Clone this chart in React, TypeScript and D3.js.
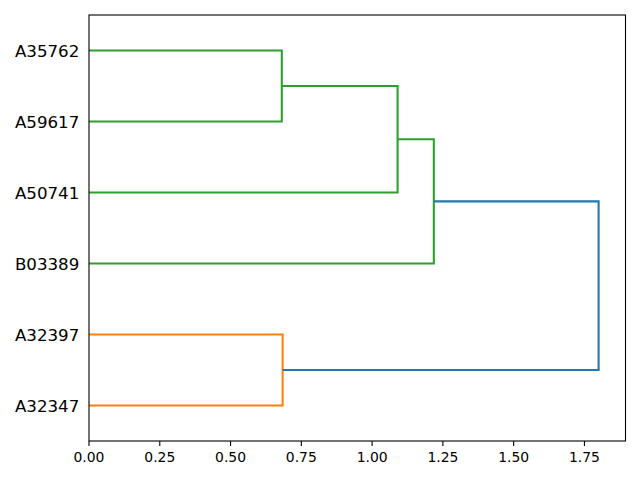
import React from "react";
import * as d3 from "d3";

// leaves, bottom to top
const leafLabels = ["A32347", "A32397", "B03389", "A50741", "A59617", "A35762"];
// merges: children index: leaf i => i, cluster k => 6+k
const mergeLeft = [5, 0, 6, 8, 9];
const mergeRight = [4, 1, 3, 2, 7];
const mergeHeight = [0.681, 0.684, 1.09, 1.218, 1.80];
const mergeColor = ["#2ca02c", "#ff7f0e", "#2ca02c", "#2ca02c", "#1f77b4"];
const xTicks = [0, 0.25, 0.5, 0.75, 1.0, 1.25, 1.5, 1.75];

const W = 640, H = 480;
const L = 89, R = 625.5, T = 15, B = 441;

export default function App() {
  const x = d3.scaleLinear().domain([0, 1.895]).range([L, R]);
  const y = d3.scaleLinear().domain([0, 60]).range([B, T]);
  const pos: number[] = leafLabels.map((_, i) => 5 + 10 * i);
  const hgt: number[] = leafLabels.map(() => 0);
  const links: { d: string; c: string }[] = [];
  mergeLeft.forEach((a, k) => {
    const b = mergeRight[k];
    const h = mergeHeight[k];
    const p = d3.path();
    p.moveTo(x(hgt[a]), y(pos[a]));
    p.lineTo(x(h), y(pos[a]));
    p.lineTo(x(h), y(pos[b]));
    p.lineTo(x(hgt[b]), y(pos[b]));
    links.push({ d: p.toString(), c: mergeColor[k] });
    pos.push((pos[a] + pos[b]) / 2);
    hgt.push(h);
  });
  const font = "DejaVu Sans, sans-serif";
  return (
    <svg width={W} height={H} style={{ position: "absolute", left: 0, top: 0, background: "#fff" }}>
      <rect x={0} y={0} width={W} height={H} fill="#fff" />
      {links.map((l, i) => (
        <path key={i} d={l.d} fill="none" stroke={l.c} strokeWidth={2.08} />
      ))}
      <rect x={L} y={T} width={R - L} height={B - T} fill="none" stroke="#000" strokeWidth={1.1} />
      {xTicks.map((t) => (
        <g key={t}>
          <line x1={x(t)} x2={x(t)} y1={B} y2={B + 4.9} stroke="#000" strokeWidth={1.1} />
          <text x={x(t)} y={B + 20.5} textAnchor="middle" fontFamily={font} fontSize={13.9} fill="#000">
            {t.toFixed(2)}
          </text>
        </g>
      ))}
      {leafLabels.map((lab, i) => (
        <text key={lab} x={L - 9.7} y={y(5 + 10 * i)} dy="0.36em" textAnchor="end" fontFamily={font} fontSize={16.67} fill="#000">
          {lab}
        </text>
      ))}
    </svg>
  );
}
